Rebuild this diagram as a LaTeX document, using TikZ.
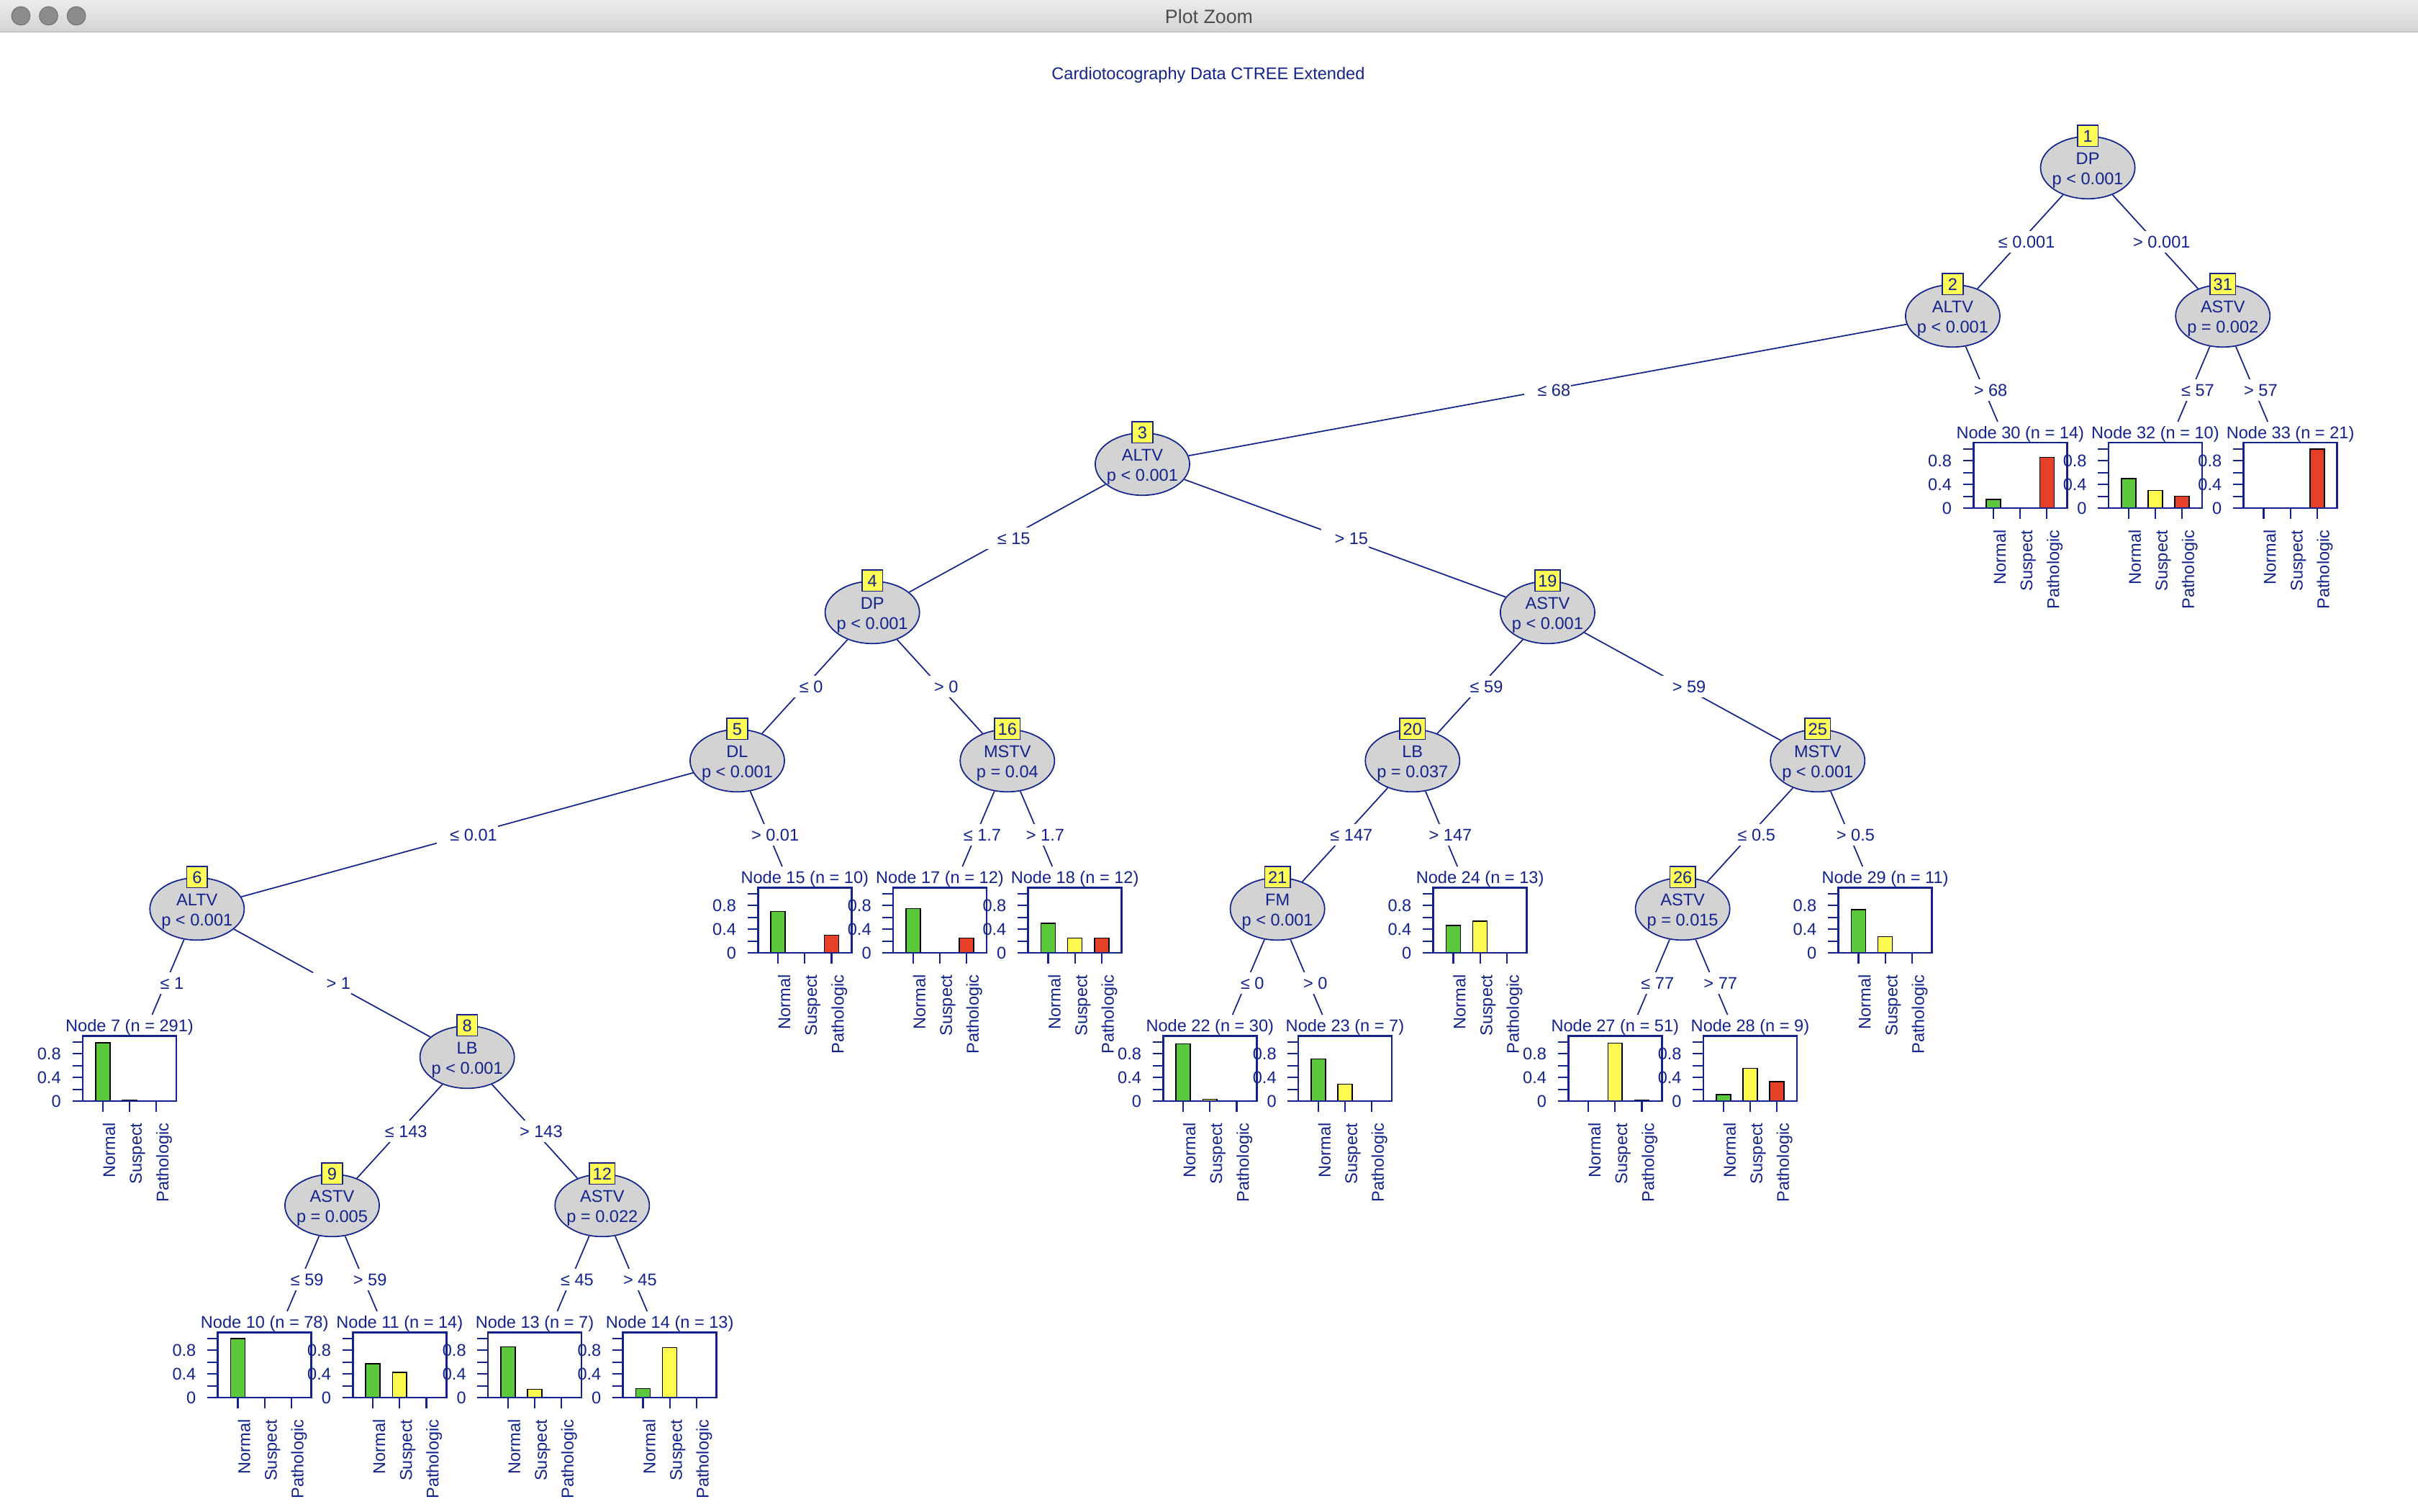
\documentclass[tikz,border=0pt]{standalone}
\usepackage{fontspec}
\setmainfont{Liberation Sans}
\usetikzlibrary{calc,shapes.geometric}
\definecolor{dblue}{RGB}{20,35,140}
\definecolor{ellgray}{RGB}{211,211,211}
\definecolor{numyel}{RGB}{255,255,85}
\definecolor{bgreen}{RGB}{92,200,60}
\definecolor{byellow}{RGB}{255,250,80}
\definecolor{bred}{RGB}{230,65,40}
\definecolor{tbtop}{RGB}{236,236,236}
\definecolor{tbbot}{RGB}{212,212,212}
\definecolor{tbline}{RGB}{175,175,175}
\definecolor{lightfill}{RGB}{140,140,140}
\definecolor{lightedge}{RGB}{115,115,115}
\definecolor{tbtext}{RGB}{77,77,77}

\newcommand{\innerN}[5]{%
  \pgfmathsetmacro{\mycx}{84+87.575*#2}%
  \pgfmathsetmacro{\myly}{108.7+96.14*(#3-1)}%
  \node[ellnode] (#1) at (\mycx,\myly) {};
  \node[txt,anchor=base] (#1v) at (\mycx,\myly-2.3) {#4};
  \node[txt,anchor=base] (#1p) at (\mycx,\myly+11) {#5};
}
\newcommand{\numB}[2]{\node[numbox] (#1b) at (#1.north) {#2};}
\newcommand{\termN}[7]{%
  \pgfmathsetmacro{\mycx}{84+87.575*#2}%
  \pgfmathsetmacro{\myly}{108.7+96.14*(#3-1)}%
  \pgfmathsetmacro{\mybot}{\myly+28.5}%
  \node[termpanel] (#1) at (\mycx,\myly+7) {};
  \node[txt,anchor=base] (#1t) at (\mycx,\myly-16.5) {#4};
  \draw[barsty,fill=bgreen] (\mycx-21.98,\mybot) rectangle (\mycx-12.68,{\mybot-38.4*#5});
  \draw[barsty,fill=byellow] (\mycx-4.65,\mybot) rectangle (\mycx+4.65,{\mybot-38.4*#6});
  \draw[barsty,fill=bred] (\mycx+12.68,\mybot) rectangle (\mycx+21.98,{\mybot-38.4*#7});
  \draw[plotbox] (\mycx-30.3,\myly-13.9) rectangle (\mycx+30.3,\mybot);
  \foreach \tv in {0,0.2,0.4,0.6,0.8,1.0}
    \draw[axtick] (\mycx-37.1,{\mybot-38.4*\tv}) -- (\mycx-30.3,{\mybot-38.4*\tv});
  \node[txt,ticklab,anchor=east] (#1ya) at (\mycx-44.3,\mybot) {0};
  \node[txt,ticklab,anchor=east] (#1yb) at (\mycx-44.3,{\mybot-38.4*0.4}) {0.4};
  \node[txt,ticklab,anchor=east] (#1yc) at (\mycx-44.3,{\mybot-38.4*0.8}) {0.8};
  \draw[axtick] (\mycx-17.33,\mybot) -- (\mycx-17.33,\mybot+7);
  \draw[axtick] (\mycx,\mybot) -- (\mycx,\mybot+7);
  \draw[axtick] (\mycx+17.33,\mybot) -- (\mycx+17.33,\mybot+7);
  \node[txt,catlab] (#1ca) at (\mycx-17.6,\mybot+14) {Normal};
  \node[txt,catlab] (#1cb) at (\mycx-0.3,\mybot+14) {Suspect};
  \node[txt,catlab] (#1cc) at (\mycx+17.0,\mybot+14) {Pathologic};
}
\newcommand{\conI}[3]{%
  \draw[conn] (#1) -- (#2);
  \node[txt,elab] (#1#2l) at ($(#1)!0.5!(#2)$) {\hspace*{8.3pt}#3};
}
\newcommand{\conT}[3]{%
  \draw[conn] (#1) -- (#2);
  \node[txt,elab] (#1#2l) at ($(#1)!0.4661!(#2)$) {\hspace*{8.3pt}#3};
}

\begin{document}
\begin{tikzpicture}[x=1pt,y=-1pt,
  txt/.style={font=\fontsize{11}{13}\selectfont, text=dblue, inner sep=0pt},
  ticklab/.style={text height=8pt, text depth=0pt},
  catlab/.style={rotate=90, anchor=north east, text height=8pt, text depth=2.3pt},
  ellnode/.style={ellipse, draw=dblue, fill=ellgray, line width=0.8pt,
    minimum width=61.2pt, minimum height=40.4pt, inner sep=0pt},
  numbox/.style={rectangle, draw=dblue, fill=numyel, line width=0.8pt,
    minimum width=13.5pt, minimum height=13.6pt, inner xsep=2.1pt, inner ysep=0pt,
    text height=8pt, text depth=0pt, font=\fontsize{11}{13}\selectfont, text=dblue},
  termpanel/.style={rectangle, minimum width=62pt, minimum height=69pt, inner sep=0pt, outer sep=0pt},
  barsty/.style={draw=black, line width=0.75pt},
  plotbox/.style={draw=dblue, line width=1.2pt},
  axtick/.style={draw=dblue, line width=1.0pt},
  conn/.style={draw=dblue, line width=0.8pt},
  elab/.style={fill=white, inner xsep=0.5pt, inner ysep=0pt, minimum height=13.6pt,
    text height=8pt, text depth=0pt},
  light/.style={circle, fill=lightfill, draw=lightedge, line width=0.5pt, minimum size=12pt, inner sep=0pt}
]
\useasboundingbox (0,0) rectangle (1568,980);
\fill[white] (0,0) rectangle (1568,980);

% window title bar
\shade[top color=tbtop, bottom color=tbbot] (0,0) rectangle (1568,20.8);
\draw[tbline, line width=0.8pt] (0,20.8) -- (1568,20.8);
\node[light] (c1) at (13.5,10.3) {};
\node[light] (c2) at (31.5,10.3) {};
\node[light] (c3) at (49.5,10.3) {};
\node[anchor=base, inner sep=0pt, font=\fontsize{12.5}{14}\selectfont, text=tbtext] (wtitle) at (784,15) {Plot Zoom};

% plot title
\node[txt,anchor=base] (ptitle) at (783.5,51.5) {Cardiotocography Data CTREE Extended};

% inner nodes
\innerN{n1}{14.5}{1}{DP}{p < 0.001}
\innerN{n2}{13.5}{2}{ALTV}{p < 0.001}
\innerN{n31}{15.5}{2}{ASTV}{p = 0.002}
\innerN{n3}{7.5}{3}{ALTV}{p < 0.001}
\innerN{n4}{5.5}{4}{DP}{p < 0.001}
\innerN{n19}{10.5}{4}{ASTV}{p < 0.001}
\innerN{n5}{4.5}{5}{DL}{p < 0.001}
\innerN{n16}{6.5}{5}{MSTV}{p = 0.04}
\innerN{n20}{9.5}{5}{LB}{p = 0.037}
\innerN{n25}{12.5}{5}{MSTV}{p < 0.001}
\innerN{n6}{0.5}{6}{ALTV}{p < 0.001}
\innerN{n21}{8.5}{6}{FM}{p < 0.001}
\innerN{n26}{11.5}{6}{ASTV}{p = 0.015}
\innerN{n8}{2.5}{7}{LB}{p < 0.001}
\innerN{n9}{1.5}{8}{ASTV}{p = 0.005}
\innerN{n12}{3.5}{8}{ASTV}{p = 0.022}

% terminal nodes
\termN{t7}{0}{7}{Node 7 (n = 291)}{0.986}{0.01}{0.004}
\termN{t10}{1}{9}{Node 10 (n = 78)}{1}{0}{0}
\termN{t11}{2}{9}{Node 11 (n = 14)}{0.571}{0.429}{0}
\termN{t13}{3}{9}{Node 13 (n = 7)}{0.857}{0.143}{0}
\termN{t14}{4}{9}{Node 14 (n = 13)}{0.154}{0.846}{0}
\termN{t15}{5}{6}{Node 15 (n = 10)}{0.7}{0}{0.3}
\termN{t17}{6}{6}{Node 17 (n = 12)}{0.75}{0}{0.25}
\termN{t18}{7}{6}{Node 18 (n = 12)}{0.5}{0.25}{0.25}
\termN{t22}{8}{7}{Node 22 (n = 30)}{0.967}{0.033}{0}
\termN{t23}{9}{7}{Node 23 (n = 7)}{0.714}{0.286}{0}
\termN{t24}{10}{6}{Node 24 (n = 13)}{0.462}{0.538}{0}
\termN{t27}{11}{7}{Node 27 (n = 51)}{0}{0.98}{0.02}
\termN{t28}{12}{7}{Node 28 (n = 9)}{0.111}{0.556}{0.333}
\termN{t29}{13}{6}{Node 29 (n = 11)}{0.727}{0.273}{0}
\termN{t30}{14}{3}{Node 30 (n = 14)}{0.143}{0}{0.857}
\termN{t32}{15}{3}{Node 32 (n = 10)}{0.5}{0.3}{0.2}
\termN{t33}{16}{3}{Node 33 (n = 21)}{0}{0}{1}

% connectors
\conI{n1}{n2}{≤ 0.001}
\conI{n1}{n31}{> 0.001}
\conI{n2}{n3}{≤ 68}
\conT{n2}{t30}{> 68}
\conT{n31}{t32}{≤ 57}
\conT{n31}{t33}{> 57}
\conI{n3}{n4}{≤ 15}
\conI{n3}{n19}{> 15}
\conI{n4}{n5}{≤ 0}
\conI{n4}{n16}{> 0}
\conI{n19}{n20}{≤ 59}
\conI{n19}{n25}{> 59}
\conI{n5}{n6}{≤ 0.01}
\conT{n5}{t15}{> 0.01}
\conT{n16}{t17}{≤ 1.7}
\conT{n16}{t18}{> 1.7}
\conI{n20}{n21}{≤ 147}
\conT{n20}{t24}{> 147}
\conI{n25}{n26}{≤ 0.5}
\conT{n25}{t29}{> 0.5}
\conT{n6}{t7}{≤ 1}
\conI{n6}{n8}{> 1}
\conT{n21}{t22}{≤ 0}
\conT{n21}{t23}{> 0}
\conT{n26}{t27}{≤ 77}
\conT{n26}{t28}{> 77}
\conI{n8}{n9}{≤ 143}
\conI{n8}{n12}{> 143}
\conT{n9}{t10}{≤ 59}
\conT{n9}{t11}{> 59}
\conT{n12}{t13}{≤ 45}
\conT{n12}{t14}{> 45}

% node number boxes
\numB{n1}{1}
\numB{n2}{2}
\numB{n31}{31}
\numB{n3}{3}
\numB{n4}{4}
\numB{n19}{19}
\numB{n5}{5}
\numB{n16}{16}
\numB{n20}{20}
\numB{n25}{25}
\numB{n6}{6}
\numB{n21}{21}
\numB{n26}{26}
\numB{n8}{8}
\numB{n9}{9}
\numB{n12}{12}
\end{tikzpicture}
\end{document}
